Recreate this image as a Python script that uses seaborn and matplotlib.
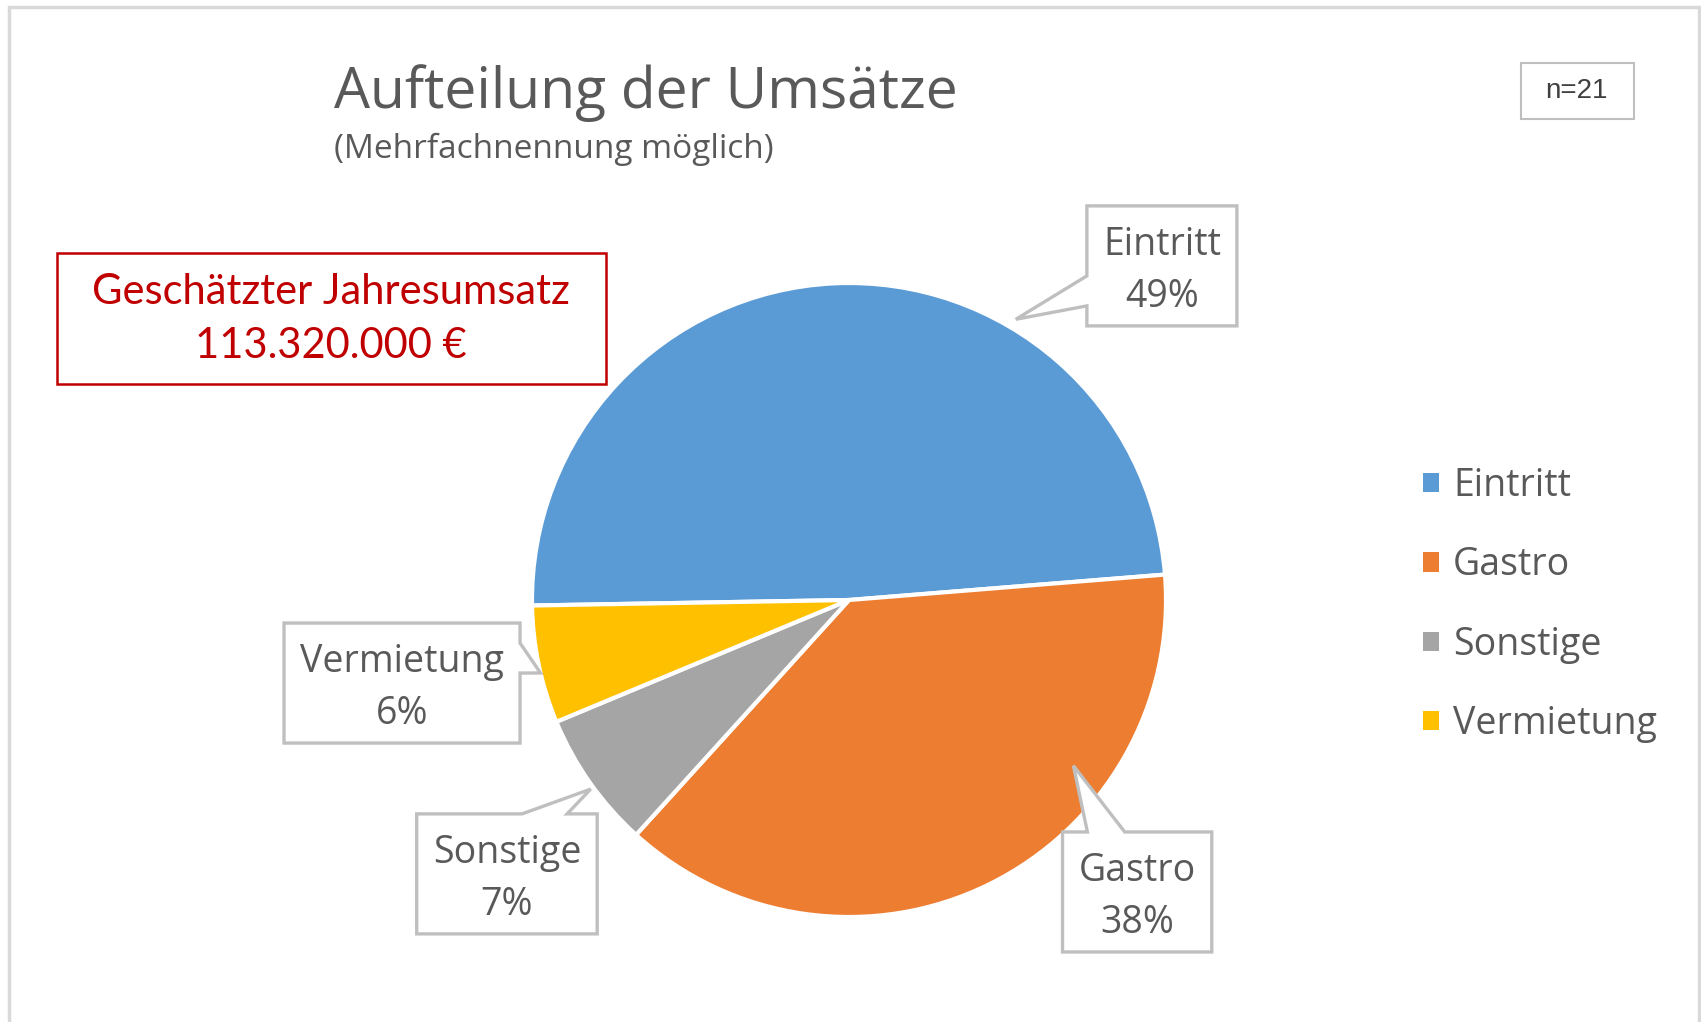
import numpy as np
import matplotlib
matplotlib.use("Agg")
import matplotlib.pyplot as plt
from matplotlib.patches import Rectangle, Polygon
import seaborn as sns

# ---- data ----
categories = ["Eintritt", "Gastro", "Sonstige", "Vermietung"]
shares = [49, 38, 7, 6]
colors = ["#5B9BD5", "#ED7D31", "#A5A5A5", "#FFC000"]
title = "Aufteilung der Umsätze"
subtitle = "(Mehrfachnennung möglich)"
note_lines = ["Geschätzter Jahresumsatz", "113.320.000 €"]
n_label = "n=21"

# callout layout (pie data units): box centres, pointer position within wedge
label_pos = [(0.987, 1.054), (0.909, -0.921), (-1.079, -0.864), (-1.410, -0.262)]
tip_frac = [0.69, 0.30, 0.46, 0.43]
tip_r = [1.03, 0.88, 1.01, 1.0]

sns.set_theme(style="white")
plt.rcParams["font.family"] = ["Open Sans", "DejaVu Sans"]

W, H = 1701, 1022
fig = plt.figure(figsize=(W / 100, H / 100), dpi=100)
fig.patch.set_facecolor("white")

def fx(px):
    return px / W

def fy(py):
    return 1 - py / H

# outer chart border
fig.patches.append(Rectangle((fx(9), fy(1040)), fx(1699) - fx(9), fy(7) - fy(1040),
                             transform=fig.transFigure, fill=False, ec="#D9D9D9", lw=2.5))

# pie axes
cx, cy, R = 849, 600, 317
lim = 1.25
half = R * lim
ax = fig.add_axes([fx(cx - half), fy(cy + half), 2 * half / W, 2 * half / H])
pal = sns.color_palette(colors)
wedges, _ = ax.pie(shares, colors=pal, startangle=181, counterclock=False,
                   wedgeprops=dict(edgecolor="white", linewidth=3))
ax.set_xlim(-lim, lim)
ax.set_ylim(-lim, lim)
ax.set_aspect("equal")
ax.axis("off")

ppu = R  # pixels per pie data unit (axes box is sized from R)
txt_col = "#595959"
edge_col = "#BFBFBF"
label_texts = []
for cat, val, (lx, ly) in zip(categories, shares, label_pos):
    t = ax.text(lx, ly - 5 / ppu, f"{cat}\n{val}%", ha="center", va="center", fontsize=27,
                color=txt_col, linespacing=1.5, zorder=7)
    label_texts.append(t)

fig.canvas.draw()
renderer = fig.canvas.get_renderer()
ppu = ax.transData.transform((1, 0))[0] - ax.transData.transform((0, 0))[0]
box_h = 120 / ppu
pad_x = 16 / ppu

for w, t, (lx, ly), fr, rr in zip(wedges, label_texts, label_pos, tip_frac, tip_r):
    bb = t.get_window_extent(renderer)
    bw = bb.width / ppu + 2 * pad_x
    x0, x1 = lx - bw / 2, lx + bw / 2
    y0, y1 = ly - box_h / 2, ly + box_h / 2
    ang = np.radians(w.theta2 - fr * (w.theta2 - w.theta1))
    tip = (rr * np.cos(ang), rr * np.sin(ang))
    dx, dy = tip[0] - lx, tip[1] - ly
    nx, ny = dx / (bw / 2), dy / (box_h / 2)
    if abs(nx) >= abs(ny):
        if dy < 0:
            ya, yb = y1 - 10 / 12 * box_h, y1 - 7 / 12 * box_h
        else:
            ya, yb = y1 - 5 / 12 * box_h, y1 - 2 / 12 * box_h
        if dx > 0:
            verts = [(x0, y0), (x1, y0), (x1, ya), tip, (x1, yb), (x1, y1), (x0, y1)]
        else:
            verts = [(x0, y0), (x1, y0), (x1, y1), (x0, y1), (x0, yb), tip, (x0, ya)]
    else:
        if dx < 0:
            xa, xb = x0 + 2 / 12 * bw, x0 + 5 / 12 * bw
        else:
            xa, xb = x0 + 7 / 12 * bw, x0 + 10 / 12 * bw
        if dy > 0:
            verts = [(x0, y0), (x1, y0), (x1, y1), (xb, y1), tip, (xa, y1), (x0, y1)]
        else:
            verts = [(x0, y0), (xa, y0), tip, (xb, y0), (x1, y0), (x1, y1), (x0, y1)]
    ax.add_patch(Polygon(verts, closed=True, fc="white", ec=edge_col, lw=2.4,
                         joinstyle="miter", zorder=6, clip_on=False))

# title & subtitle
fig.text(fx(334), fy(108), title, fontsize=41, color=txt_col, ha="left", va="baseline")
fig.text(fx(334), fy(158), subtitle, fontsize=24, color=txt_col, ha="left", va="baseline")

# red note box
fig.patches.append(Rectangle((fx(57), fy(384)), fx(606) - fx(57), fy(253) - fy(384),
                             transform=fig.transFigure, fill=False, ec="#C00000", lw=1.8))
fig.text(fx(331), fy(292), note_lines[0], fontsize=30, color="#C00000",
         ha="center", va="center", family=["Lato", "DejaVu Sans"])
fig.text(fx(331), fy(346), note_lines[1], fontsize=30, color="#C00000",
         ha="center", va="center", family=["Lato", "DejaVu Sans"])

# n box
fig.patches.append(Rectangle((fx(1521), fy(119)), fx(1634) - fx(1521), fy(63) - fy(119),
                             transform=fig.transFigure, fill=False, ec="#BFBFBF", lw=1.5))
fig.text(fx(1576), fy(91), n_label, fontsize=20, color="#404040", ha="center", va="center",
         family=["Liberation Sans", "DejaVu Sans"])

# legend
leg = fig.legend(wedges, categories, loc="center left", bbox_to_anchor=(fx(1423), fy(605)),
                 frameon=False, fontsize=27, handlelength=0.42, handleheight=0.42,
                 handletextpad=0.38, labelspacing=1.1, borderpad=0, borderaxespad=0)
for t in leg.get_texts():
    t.set_color(txt_col)
for h in leg.legend_handles:
    h.set_edgecolor("none")

fig.savefig("out.png", dpi=100, facecolor="white")
